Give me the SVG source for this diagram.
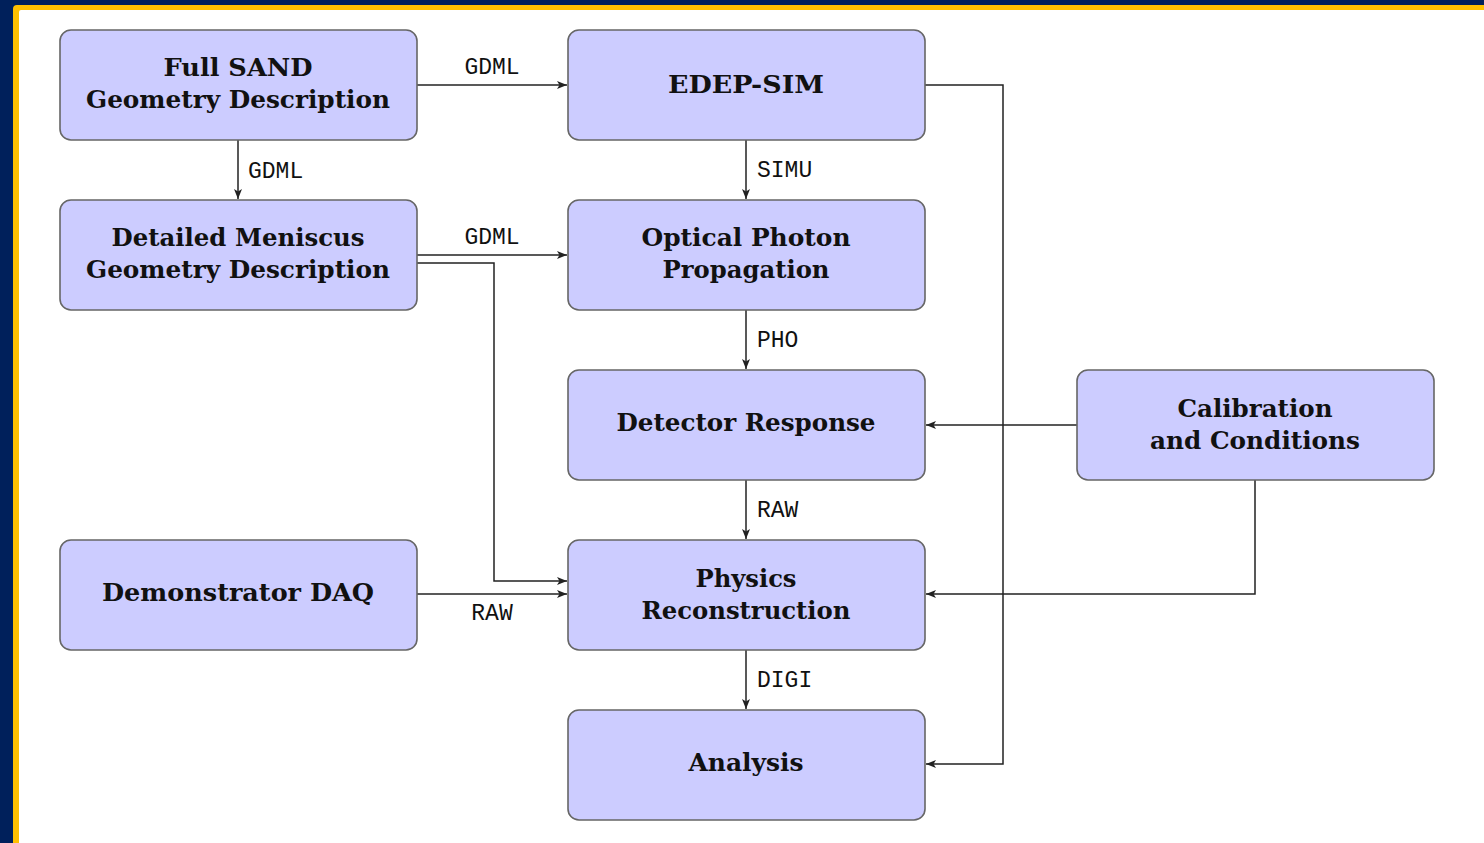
<svg xmlns="http://www.w3.org/2000/svg" width="1484" height="843" viewBox="0 0 1484 843">
<style>
.box{fill:#CCCCFF;stroke:#666666;stroke-width:1.6}
.t{font-family:"DejaVu Serif","Liberation Serif",serif;font-weight:bold;font-size:24px;fill:#111111;text-anchor:middle}
.lbl{font-family:"Liberation Mono","DejaVu Sans Mono",monospace;font-size:23px;fill:#111111}
.c{fill:none;stroke:#222222;stroke-width:1.5}
</style>
<defs>
<marker id="ah" markerUnits="userSpaceOnUse" markerWidth="12" markerHeight="10" refX="10" refY="4" orient="auto">
<path d="M0,0 L10,4 L0,8 L2.5,4 Z" fill="#222222"/>
</marker>
</defs>
<rect x="0" y="0" width="1484" height="843" fill="#00205B"/>
<rect x="13" y="5" width="1500" height="860" rx="4" fill="#FFC000"/>
<rect x="19" y="10" width="1500" height="860" rx="2" fill="#FFFFFF"/>

<g id="connectors">
<line class="c" x1="417" y1="85" x2="567" y2="85" marker-end="url(#ah)"/>
<line class="c" x1="238" y1="140" x2="238" y2="199" marker-end="url(#ah)"/>
<line class="c" x1="417" y1="255" x2="567" y2="255" marker-end="url(#ah)"/>
<polyline class="c" points="417,263 494,263 494,581 567,581" marker-end="url(#ah)"/>
<line class="c" x1="417" y1="594" x2="567" y2="594" marker-end="url(#ah)"/>
<line class="c" x1="746" y1="140" x2="746" y2="199" marker-end="url(#ah)"/>
<line class="c" x1="746" y1="310" x2="746" y2="369" marker-end="url(#ah)"/>
<line class="c" x1="746" y1="480" x2="746" y2="539" marker-end="url(#ah)"/>
<line class="c" x1="746" y1="650" x2="746" y2="709" marker-end="url(#ah)"/>
<polyline class="c" points="925,85 1003,85 1003,764 926,764" marker-end="url(#ah)"/>
<line class="c" x1="1077" y1="425" x2="926" y2="425" marker-end="url(#ah)"/>
<polyline class="c" points="1255,480 1255,594 926,594" marker-end="url(#ah)"/>
<text class="lbl" x="492" y="74" text-anchor="middle">GDML</text>
<text class="lbl" x="248" y="178">GDML</text>
<text class="lbl" x="492" y="244" text-anchor="middle">GDML</text>
<text class="lbl" x="492" y="620" text-anchor="middle">RAW</text>
<text class="lbl" x="757" y="177">SIMU</text>
<text class="lbl" x="757" y="347">PHO</text>
<text class="lbl" x="757" y="517">RAW</text>
<text class="lbl" x="757" y="687">DIGI</text>
</g>

<g id="full-sand">
<rect class="box" x="60" y="30" width="357" height="110" rx="11"/>
<text class="t" x="238" y="76" textLength="149" lengthAdjust="spacingAndGlyphs">Full SAND</text>
<text class="t" x="238" y="108" textLength="304" lengthAdjust="spacingAndGlyphs">Geometry Description</text>
</g>
<g id="edep-sim">
<rect class="box" x="568" y="30" width="357" height="110" rx="11"/>
<text class="t" x="746" y="93" textLength="156" lengthAdjust="spacingAndGlyphs">EDEP-SIM</text>
</g>
<g id="detailed-meniscus">
<rect class="box" x="60" y="200" width="357" height="110" rx="11"/>
<text class="t" x="238" y="246" textLength="253" lengthAdjust="spacingAndGlyphs">Detailed Meniscus</text>
<text class="t" x="238" y="278" textLength="304" lengthAdjust="spacingAndGlyphs">Geometry Description</text>
</g>
<g id="optical-photon">
<rect class="box" x="568" y="200" width="357" height="110" rx="11"/>
<text class="t" x="746" y="246" textLength="209" lengthAdjust="spacingAndGlyphs">Optical Photon</text>
<text class="t" x="746" y="278" textLength="167" lengthAdjust="spacingAndGlyphs">Propagation</text>
</g>
<g id="detector-response">
<rect class="box" x="568" y="370" width="357" height="110" rx="11"/>
<text class="t" x="746" y="431" textLength="259" lengthAdjust="spacingAndGlyphs">Detector Response</text>
</g>
<g id="calibration">
<rect class="box" x="1077" y="370" width="357" height="110" rx="11"/>
<text class="t" x="1255" y="417" textLength="155" lengthAdjust="spacingAndGlyphs">Calibration</text>
<text class="t" x="1255" y="449" textLength="210" lengthAdjust="spacingAndGlyphs">and Conditions</text>
</g>
<g id="demonstrator-daq">
<rect class="box" x="60" y="540" width="357" height="110" rx="11"/>
<text class="t" x="238" y="601" textLength="272" lengthAdjust="spacingAndGlyphs">Demonstrator DAQ</text>
</g>
<g id="physics-reconstruction">
<rect class="box" x="568" y="540" width="357" height="110" rx="11"/>
<text class="t" x="746" y="587" textLength="101" lengthAdjust="spacingAndGlyphs">Physics</text>
<text class="t" x="746" y="619" textLength="209" lengthAdjust="spacingAndGlyphs">Reconstruction</text>
</g>
<g id="analysis">
<rect class="box" x="568" y="710" width="357" height="110" rx="11"/>
<text class="t" x="746" y="771" textLength="115" lengthAdjust="spacingAndGlyphs">Analysis</text>
</g>
</svg>
